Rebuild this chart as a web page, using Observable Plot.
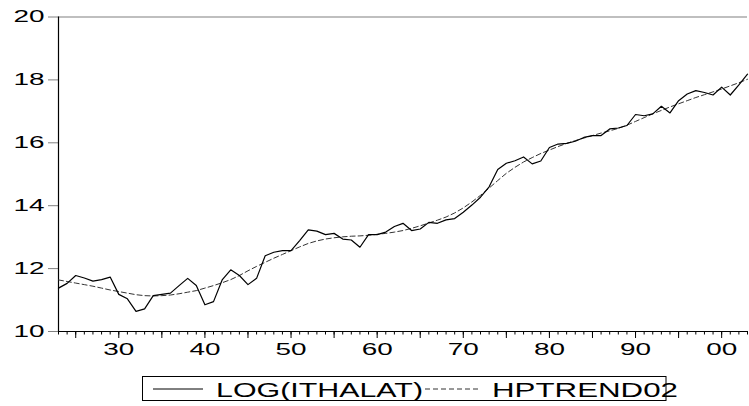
<!DOCTYPE html>
<html>
<head>
<meta charset="utf-8">
<script src="https://cdn.jsdelivr.net/npm/d3@7"></script>
<script src="https://cdn.jsdelivr.net/npm/@observablehq/plot@0.6"></script>
<style>
  html, body { margin: 0; padding: 0; background: #fff; }
  #chart svg { display: block; }
  #legend svg { display: block; }
</style>
</head>
<body>
<div id="chart"></div>
<div id="legend"></div>
<script>
const years = d3.range(1923, 2004);
const logIthalat = [
  11.38, 11.53, 11.78, 11.70, 11.60, 11.65, 11.73, 11.18, 11.04, 10.64,
  10.72, 11.14, 11.18, 11.22, 11.46, 11.69, 11.46, 10.85, 10.95, 11.64,
  11.96, 11.78, 11.49, 11.69, 12.41, 12.52, 12.57, 12.57, 12.89, 13.23,
  13.19, 13.08, 13.12, 12.94, 12.91, 12.68, 13.08, 13.08, 13.16, 13.34,
  13.44, 13.21, 13.26, 13.47, 13.44, 13.55, 13.59, 13.79, 14.02, 14.27,
  14.60, 15.15, 15.35, 15.43, 15.55, 15.33, 15.42, 15.85, 15.96, 15.98,
  16.05, 16.17, 16.23, 16.23, 16.44, 16.47, 16.55, 16.90, 16.86, 16.92,
  17.16, 16.95, 17.34, 17.55, 17.66, 17.60, 17.52, 17.77, 17.52, 17.84,
  18.18
];
const hpTrend = [
  11.64, 11.59, 11.54, 11.49, 11.44, 11.38, 11.32, 11.27, 11.22, 11.17,
  11.14, 11.13, 11.14, 11.16, 11.20, 11.25, 11.30, 11.38, 11.46, 11.55,
  11.65, 11.78, 11.93, 12.07, 12.20, 12.33, 12.45, 12.57, 12.69, 12.80,
  12.88, 12.94, 12.98, 13.01, 13.03, 13.04, 13.06, 13.09, 13.12, 13.16,
  13.21, 13.28, 13.36, 13.45, 13.54, 13.64, 13.77, 13.93, 14.12, 14.33,
  14.56, 14.80, 15.03, 15.22, 15.39, 15.53, 15.66, 15.77, 15.88, 15.98,
  16.07, 16.15, 16.23, 16.31, 16.38, 16.46, 16.56, 16.68, 16.80, 16.92,
  17.03, 17.14, 17.24, 17.34, 17.44, 17.53, 17.62, 17.71, 17.81, 17.91,
  18.02
];
const yTicks = [10, 12, 14, 16, 18, 20];
const fiveYearTicks = d3.range(1925, 2004, 5);
const decadeTicks = [1930, 1940, 1950, 1960, 1970, 1980, 1990, 2000];
const seriesNames = ["LOG(ITHALAT)", "HPTREND02"];

const rows = years.map((y, i) => ({year: y, log: logIthalat[i], trend: hpTrend[i]}));

const font = "'Liberation Sans', Arial, sans-serif";

const chart = Plot.plot({
  width: 749,
  height: 366,
  marginLeft: 58,
  marginRight: 2,
  marginTop: 16.5,
  marginBottom: 35,
  style: {fontFamily: font, background: "#fff", color: "#000"},
  x: {domain: [1923, 2003], label: null},
  y: {domain: [10, 20], label: null},
  marks: [
    Plot.ruleY([20], {stroke: "#808080", strokeWidth: 1.2}),
    Plot.axisY(yTicks, {label: null, tickSize: 10, tickPadding: 4, stroke: "#808080", fontSize: 16, fill: "#000", tickFormat: d => String(d)}),
    Plot.axisX(years, {label: null, tickSize: 3.5, tickFormat: () => "", stroke: "#000"}),
    Plot.axisX(fiveYearTicks, {label: null, tickSize: 7, tickFormat: () => "", stroke: "#000"}),
    Plot.axisX(decadeTicks, {label: null, tickSize: 0, tickPadding: 12, fontSize: 16, fill: "#000", tickFormat: d => String(d % 100).padStart(2, "0")}),
    Plot.ruleX([1923], {stroke: "#000", strokeWidth: 1.2}),
    Plot.ruleY([10], {stroke: "#000", strokeWidth: 1.2}),
    Plot.line(rows, {x: "year", y: "trend", stroke: "#333", strokeWidth: 1, strokeDasharray: "5,3"}),
    Plot.line(rows, {x: "year", y: "log", stroke: "#000", strokeWidth: 1.2})
  ]
});
document.getElementById("chart").appendChild(chart);

// stretch tick labels horizontally like the original (wide glyphs)
d3.select(chart).selectAll("g[aria-label='y-axis tick label'] text, g[aria-label='x-axis tick label'] text")
  .each(function() {
    const t = this.textContent;
    if (t && t.length) {
      this.setAttribute("textLength", 31);
      this.setAttribute("lengthAdjust", "spacingAndGlyphs");
    }
  });

// legend below the chart
const leg = d3.select("#legend").append("svg")
  .attr("width", 749).attr("height", 40)
  .style("font-family", font);
leg.append("rect").attr("x", 142.5).attr("y", 10.5).attr("width", 523.5).attr("height", 24)
  .attr("fill", "none").attr("stroke", "#000").attr("stroke-width", 1);
leg.append("line").attr("x1", 153).attr("x2", 203).attr("y1", 23).attr("y2", 23)
  .attr("stroke", "#000").attr("stroke-width", 1);
leg.append("text").attr("x", 216).attr("y", 31.3).attr("font-size", 20)
  .attr("textLength", 207).attr("lengthAdjust", "spacingAndGlyphs").text(seriesNames[0]);
leg.append("line").attr("x1", 425).attr("x2", 481).attr("y1", 23).attr("y2", 23)
  .attr("stroke", "#333").attr("stroke-width", 1).attr("stroke-dasharray", "5,3");
leg.append("text").attr("x", 492).attr("y", 31.3).attr("font-size", 20)
  .attr("textLength", 186).attr("lengthAdjust", "spacingAndGlyphs").text(seriesNames[1]);
</script>
</body>
</html>
